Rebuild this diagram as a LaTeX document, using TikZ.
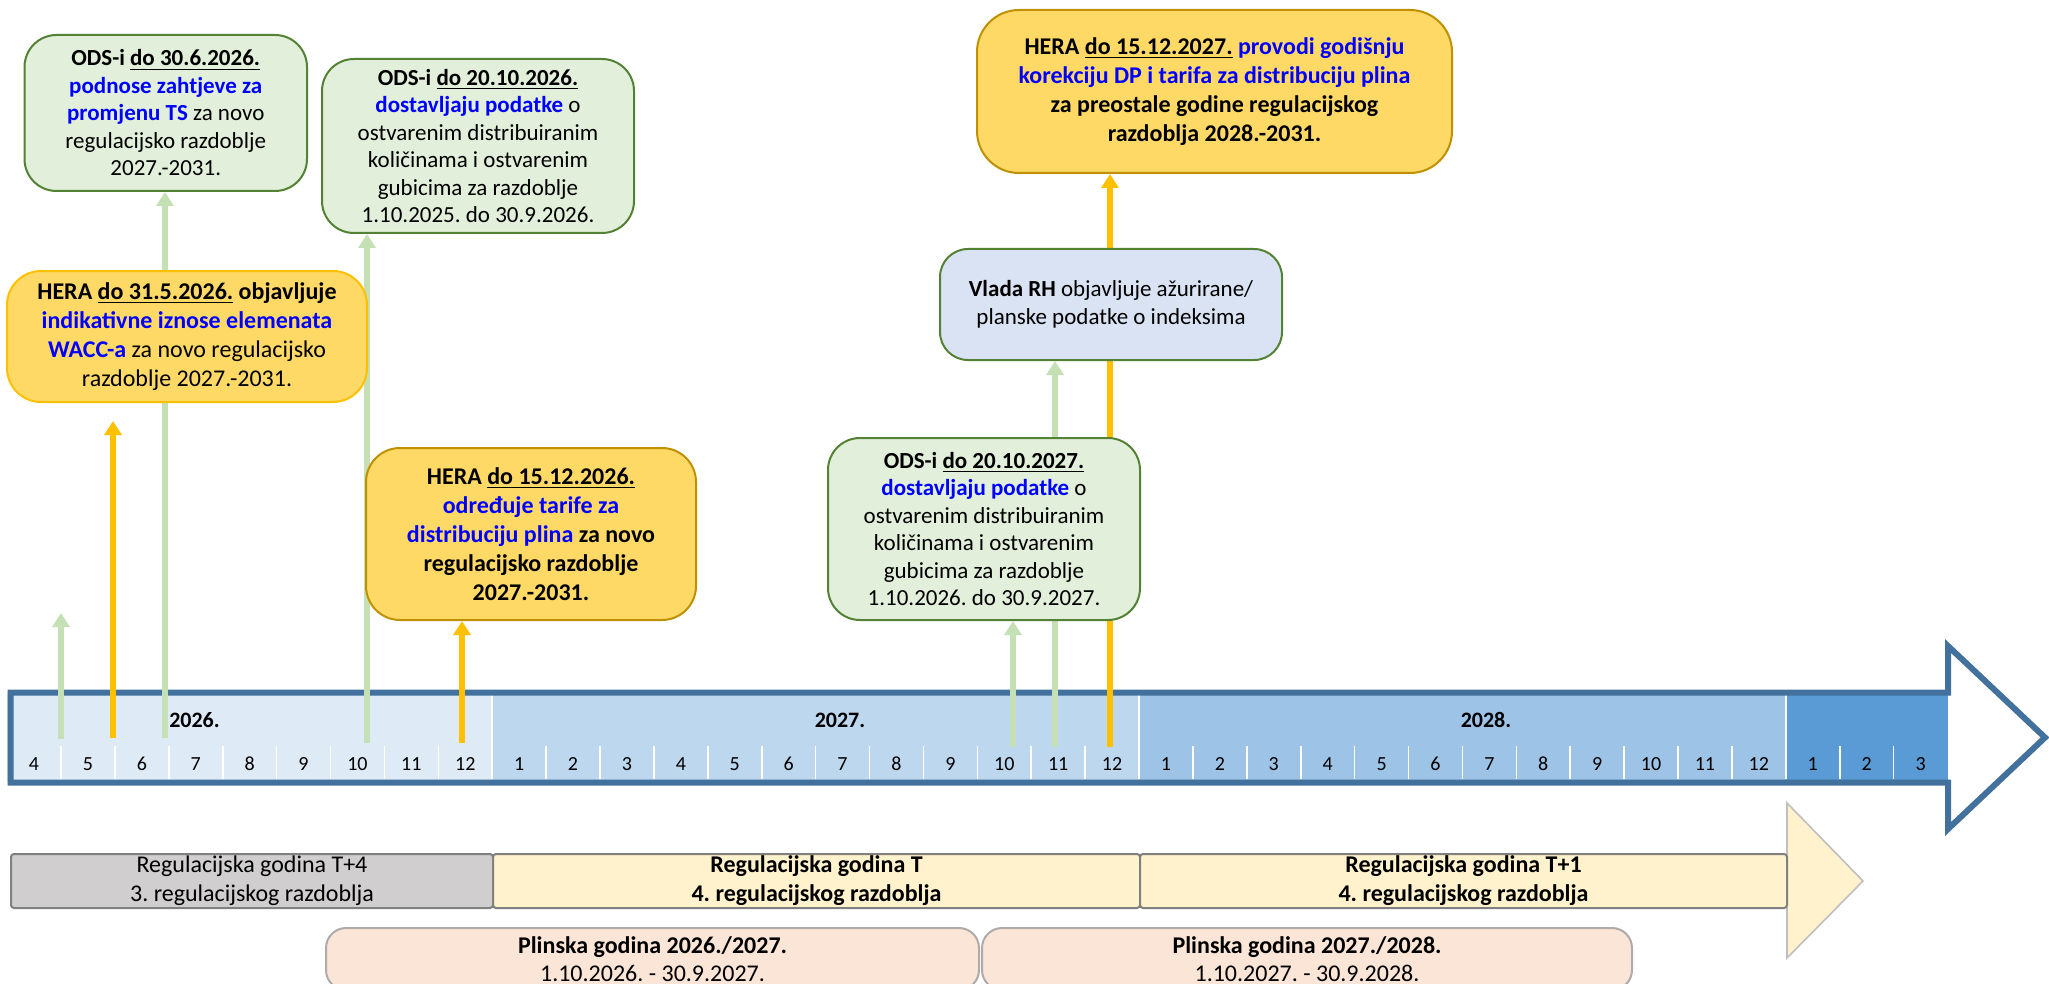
\documentclass[tikz,border=0pt]{standalone}
\usepackage{fontspec}
\setmainfont{Carlito}
\usetikzlibrary{arrows.meta}
\pgfdeclarelayer{base}
\pgfdeclarelayer{back}
\pgfsetlayers{base,back,main}
\definecolor{grfill}{HTML}{E2EFDA}
\definecolor{grdraw}{HTML}{548235}
\definecolor{yefill}{HTML}{FFD966}
\definecolor{yedraw}{HTML}{BF9000}
\definecolor{yedrawb}{HTML}{FFC000}
\definecolor{blfill}{HTML}{DAE3F3}
\definecolor{garrow}{HTML}{C5E0B4}
\definecolor{oarrow}{HTML}{FFC000}
\definecolor{outl}{HTML}{41719C}
\definecolor{ytwsix}{HTML}{DEEBF7}
\definecolor{ytwseven}{HTML}{BDD7EE}
\definecolor{yteight}{HTML}{9DC3E6}
\definecolor{ytnine}{HTML}{5B9BD5}
\definecolor{grayfill}{HTML}{D0CECE}
\definecolor{bardraw}{HTML}{808080}
\definecolor{tfill}{HTML}{FFF2CC}
\definecolor{headdraw}{HTML}{BFBFBF}
\definecolor{pfill}{HTML}{FBE5D6}
\definecolor{pdraw}{HTML}{AFABAB}
\definecolor{btext}{HTML}{0000FF}
\newcommand{\blueb}[1]{\textbf{\color{btext}#1}}
\newcommand{\dul}[1]{\underline{\textbf{#1}}}
\begin{document}
\frenchspacing
\begin{tikzpicture}[x=0.5pt,y=-0.5pt,
  gbox/.style={draw=grdraw, fill=grfill, line width=1pt, rounded corners=16pt, align=center, inner sep=0pt,
    font=\fontsize{11.5pt}{13.75pt}\selectfont},
  ybox/.style={draw=yedraw, fill=yefill, line width=1pt, rounded corners=17pt, align=center, inner sep=0pt,
    font=\fontsize{12pt}{14.5pt}\selectfont},
  bbox/.style={draw=grdraw, fill=blfill, line width=1pt, rounded corners=14pt, align=center, inner sep=0pt,
    font=\fontsize{11.5pt}{14pt}\selectfont},
  regbar/.style={draw=bardraw, line width=1pt, rounded corners=1.5pt, align=center, inner sep=0pt,
    font=\fontsize{12pt}{14.5pt}\selectfont},
  plbox/.style={draw=pdraw, fill=pfill, line width=1pt, rounded corners=10pt, align=center, inner sep=0pt,
    font=\fontsize{12pt}{14pt}\selectfont},
  garr/.style={draw=garrow, line width=3pt, -{Triangle[width=8.5pt,length=7pt]}},
  oarr/.style={draw=oarrow, line width=3pt, -{Triangle[width=8.5pt,length=7pt]}},
  monthlbl/.style={font=\fontsize{10pt}{12pt}\selectfont, inner sep=0pt},
  yearlbl/.style={font=\fontsize{11pt}{13pt}\selectfont\bfseries, inner sep=0pt},
  tick/.style={draw=white, line width=0.8pt}
]
\useasboundingbox (0,0) rectangle (2049,984);

% ---------- timeline (bottom layer) ----------
\begin{pgfonlayer}{base}
\fill[ytwsix]   (7.1,692) rectangle (492.2,783);
\fill[ytwseven] (492.2,692) rectangle (1139,783);
\fill[yteight]  (1139,692) rectangle (1785.8,783);
\fill[ytnine]   (1785.8,692) rectangle (1947.5,783);
\foreach \i in {1,...,35}{
  \draw[tick] ({7.1+53.9*\i},746) -- ({7.1+53.9*\i},779);
}
\foreach \i in {9,21,33}{
  \draw[tick] ({7.1+53.9*\i},695) -- ({7.1+53.9*\i},779);
}
\foreach \i in {0,...,35}{
  \pgfmathsetmacro\xc{7.1+53.9*(\i+0.5)}
  \pgfmathtruncatemacro\mm{mod(\i+3,12)+1}
  \node[monthlbl] (m\i) at (\xc,764) {\mm};
}
\node[yearlbl] (y26) at (194.5,720) {2026.};
\node[yearlbl] (y27) at (840,720) {2027.};
\node[yearlbl] (y28) at (1486,720) {2028.};
\draw[outl, line width=3pt, line join=miter]
  (10.5,692.5) -- (1948,692.5) -- (1948,646) -- (2045,737.5) -- (1948,829) -- (1948,782.5) -- (10.5,782.5) -- cycle;
\end{pgfonlayer}

% ---------- bottom bars ----------
\fill[tfill, draw=headdraw, line width=0.8pt] (1787,803) -- (1863,881) -- (1787,958) -- cycle;
\node[regbar, fill=grayfill, minimum width=241pt, minimum height=27pt] (rt4) at (252,881)
  {Regulacijska godina T+4\\3. regulacijskog razdoblja};
\node[regbar, fill=tfill, minimum width=323.5pt, minimum height=27pt] (rt) at (816.5,881)
  {\textbf{Regulacijska godina T}\\\textbf{4. regulacijskog razdoblja}};
\node[regbar, fill=tfill, minimum width=323.5pt, minimum height=27pt] (rt1) at (1463.5,881)
  {\textbf{Regulacijska godina T+1}\\\textbf{4. regulacijskog razdoblja}};
\node[plbox, minimum width=326.5pt, minimum height=31pt] (pl1) at (652.5,959)
  {\textbf{Plinska godina 2026./2027.}\\1.10.2026. - 30.9.2027.};
\node[plbox, minimum width=325pt, minimum height=31pt] (pl2) at (1307,959)
  {\textbf{Plinska godina 2027./2028.}\\1.10.2027. - 30.9.2028.};

% ---------- boxes ----------
\node[gbox, minimum width=141.25pt, minimum height=78pt] (A) at (165.75,113)
  {\textbf{ODS-i} \dul{do 30.6.2026.}\\\blueb{podnose zahtjeve za}\\\blueb{promjenu TS} za novo\\regulacijsko razdoblje\\2027.-2031.};
\node[gbox, minimum width=156pt, minimum height=87pt] (B) at (478,146)
  {\textbf{ODS-i} \dul{do 20.10.2026.}\\\blueb{dostavljaju podatke} o\\ostvarenim distribuiranim\\količinama i ostvarenim\\gubicima za razdoblje\\1.10.2025. do 30.9.2026.};
\node[gbox, minimum width=156pt, minimum height=91pt] (E) at (984,529)
  {\textbf{ODS-i} \dul{do 20.10.2027.}\\\blueb{dostavljaju podatke} o\\ostvarenim distribuiranim\\količinama i ostvarenim\\gubicima za razdoblje\\1.10.2026. do 30.9.2027.};
\node[bbox, minimum width=171pt, minimum height=55.5pt] (F) at (1111,304.5)
  {\textbf{Vlada RH} objavljuje ažurirane/\\planske podatke o indeksima};
\node[ybox, minimum width=165pt, minimum height=86pt] (D) at (531,534)
  {\textbf{HERA} \dul{do 15.12.2026.}\\\blueb{određuje tarife za}\\\blueb{distribuciju plina} \textbf{za novo}\\\textbf{regulacijsko razdoblje}\\\textbf{2027.-2031.}};
\node[ybox, rounded corners=21pt, minimum width=237.5pt, minimum height=81.5pt] (G) at (1214.5,91.5)
  {\textbf{HERA} \dul{do 15.12.2027.} \blueb{provodi godišnju}\\\blueb{korekciju DP i tarifa za distribuciju plina}\\\textbf{za preostale godine regulacijskog}\\\textbf{razdoblja 2028.-2031.}};
\node[ybox, draw=yedrawb, minimum width=180pt, minimum height=65.5pt] (C) at (187,336.5)
  {\textbf{HERA} \dul{do 31.5.2026.} \textbf{objavljuje}\\\blueb{indikativne iznose elemenata}\\\blueb{WACC-a} za novo regulacijsko\\razdoblje 2027.-2031.};

% ---------- connectors (behind boxes, above timeline) ----------
\coordinate (s1) at (61,739);
\coordinate (e1) at (61,613);
\coordinate (s2) at (113,738);
\coordinate (e2) at (113,421);
\coordinate (s3) at (165,738);
\coordinate (s4) at (367,743);
\coordinate (s5) at (462,743);
\coordinate (s6) at (1013,747);
\coordinate (s7) at (1055,747);
\coordinate (s8) at (1110,747);
\begin{pgfonlayer}{back}
\draw[garr] (s1) -- (e1);
\draw[oarr] (s2) -- (e2);
\draw[garr] (s3) -- (s3 |- A.south);
\draw[garr] (s4) -- (s4 |- B.south);
\draw[oarr] (s5) -- (s5 |- D.south);
\draw[garr] (s6) -- (s6 |- E.south);
\draw[garr] (s7) -- (s7 |- F.south);
\draw[oarr] (s8) -- (s8 |- G.south);
\end{pgfonlayer}
\end{tikzpicture}
\end{document}
